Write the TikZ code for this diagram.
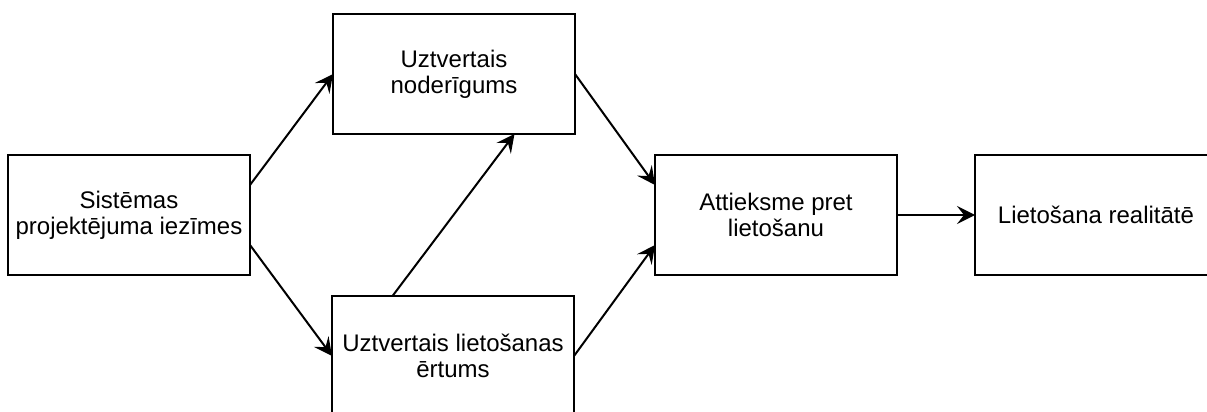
\documentclass[tikz,border=0pt]{standalone}
\usepackage{fontspec}
\setmainfont{Liberation Sans}
\usetikzlibrary{arrows.meta, calc}

\begin{document}
\begin{tikzpicture}[x=0.5pt, y=-0.5pt,
        box/.style={draw=black, line width=1pt, minimum width=121pt, minimum height=60pt,
            inner sep=0pt, outer sep=0pt, align=center, font=\fontsize{12pt}{13pt}\selectfont},
        arr/.style={-{Stealth[length=9pt, width=9pt, inset=3.5pt]}, line width=1pt}]
    \useasboundingbox (0,0) rectangle (1207,412);
    \clip (0,0) rectangle (1207,412);

    % Boxes
    \node[box] (sys) at (129,215) {Sistēmas\\projektējuma iezīmes};
    \node[box] (use) at (454,74) {Uztvertais\\noderīgums};
    \node[box] (ease) at (453,356) {Uztvertais lietošanas\\ērtums};
    \node[box] (att) at (776,215) {Attieksme pret\\lietošanu};
    \node[box] (real) at (1096,215) {Lietošana realitātē};

    % Arrows
    \draw[arr] ($(sys.north east)!0.25!(sys.south east)$) -- (use.west);
    \draw[arr] ($(sys.north east)!0.75!(sys.south east)$) -- (ease.west);
    \draw[arr] ($(ease.north west)!0.25!(ease.north east)$) -- ($(use.south west)!0.75!(use.south east)$);
    \draw[arr] (use.east) -- ($(att.north west)!0.25!(att.south west)$);
    \draw[arr] (ease.east) -- ($(att.north west)!0.75!(att.south west)$);
    \draw[arr] (att.east) -- (real.west);
\end{tikzpicture}
\end{document}
